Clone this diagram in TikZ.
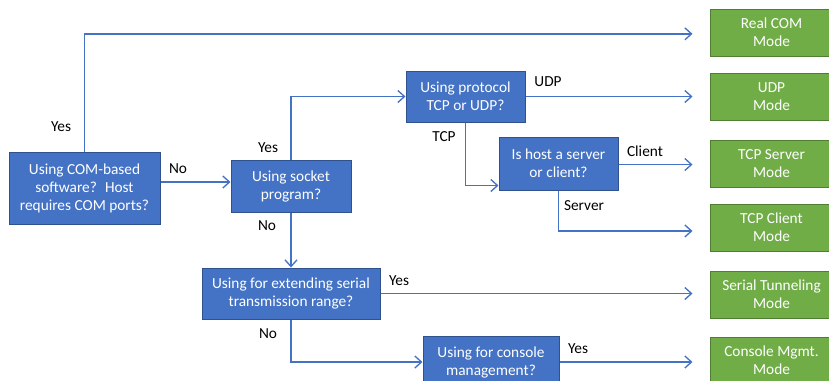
\documentclass[tikz,border=0pt]{standalone}
\usepackage{fontspec}
\setmainfont{Carlito}
\usetikzlibrary{arrows.meta}

\definecolor{askblue}{HTML}{4472C4}
\definecolor{askedge}{HTML}{2F528F}
\definecolor{modegreen}{HTML}{70AD47}
\definecolor{modeedge}{HTML}{507E32}

\begin{document}
\begin{tikzpicture}[x=0.75pt, y=-0.75pt,
    ask/.style={draw=askedge, fill=askblue, text=white, line width=0.75pt, align=center, inner sep=0pt, font=\fontsize{11.5}{13.5}\selectfont},
    mode/.style={draw=modeedge, fill=modegreen, text=white, line width=0.75pt, align=center, inner sep=0pt, minimum width=92.25pt, minimum height=35.25pt, font=\fontsize{11.5}{13.5}\selectfont},
    flow/.style={draw=askblue, line width=1pt, -{Straight Barb[length=5pt, width=9pt]}},
    tomode/.style={flow, shorten >=12.75pt},
    lbl/.style={font=\fontsize{11.5}{13.5}\selectfont}]
            \clip (0, 0) rectangle (829, 380);
            \node[ask, minimum width=113.25pt, minimum height=54pt] (com) at (84.5, 188) {Using COM-based\\software?~ Host\\requires COM ports?};
            \node[ask, minimum width=90pt, minimum height=39pt] (sock) at (291, 186) {Using socket\\program?};
            \node[ask, minimum width=89.25pt, minimum height=38.25pt] (proto) at (465.5, 96.5) {Using protocol\\TCP or UDP?};
            \node[ask, minimum width=89.25pt, minimum height=39.75pt] (host) at (558.5, 163.5) {Is host a server\\or client?};
            \node[ask, minimum width=133.5pt, minimum height=38.25pt] (range) at (291, 293.5) {Using for extending serial\\transmission range?};
            \node[ask, minimum width=102pt, minimum height=39pt] (cons) at (491, 362) {Using for console\\management?};
            \node[mode] (realcom) at (771.5, 32.5) {Real COM\\Mode};
            \node[mode] (udp) at (771.5, 96.5) {UDP\\Mode};
            \node[mode] (tcpsrv) at (771.5, 163.5) {TCP Server\\Mode};
            \node[mode] (tcpcli) at (771.5, 227.5) {TCP Client\\Mode};
            \node[mode] (tunnel) at (771.5, 294.5) {Serial Tunneling\\Mode};
            \node[mode] (mgmt) at (771.5, 360.5) {Console Mgmt.\\Mode};
            \draw[tomode] (com.north) |- ([yshift=-1pt]realcom.west);
            \draw[flow] (com.east) ++(0, -6) coordinate (nofrom) -- (nofrom -| sock.west);
            \draw[flow] (sock.north) |- (proto.west);
            \draw[tomode] (proto.east) -- (proto.east -| udp.west);
            \draw[flow] (proto.south) |- ([yshift=3.75pt]host.south west);
            \draw[tomode] (host.east) ++(0, 1) coordinate (clifrom) -- (clifrom -| tcpsrv.west);
            \draw[tomode] (host.south) |- ([yshift=-2.6pt]tcpcli.west);
            \draw[flow] (sock.south) -- (range.north);
            \draw[tomode] (range.east) -- (range.east -| tunnel.west);
            \draw[flow] (range.south) |- (cons.west);
            \draw[tomode] (cons.east) -- (cons.east -| mgmt.west);
            \node[lbl] (comyes) at (61, 127) {Yes};
            \node[lbl] (comno) at (178, 169) {No};
            \node[lbl] (sockyes) at (268, 148) {Yes};
            \node[lbl] (protoudp) at (548, 82) {UDP};
            \node[lbl] (prototcp) at (444, 137) {TCP};
            \node[lbl] (hostcli) at (645, 151) {Client};
            \node[lbl] (hostsrv) at (584, 206) {Server};
            \node[lbl] (sockno) at (267, 226) {No};
            \node[lbl] (rangeyes) at (399, 281) {Yes};
            \node[lbl] (rangeno) at (268, 334) {No};
            \node[lbl] (consyes) at (578, 349) {Yes};
        \end{tikzpicture}
\end{document}
